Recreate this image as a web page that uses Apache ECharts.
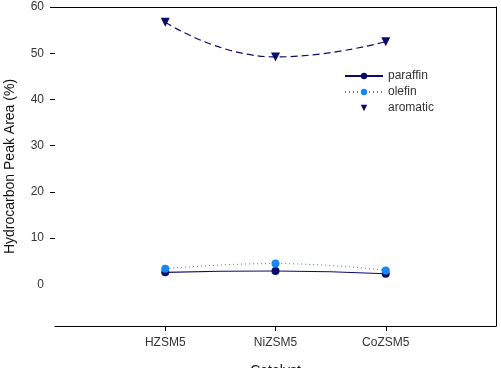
<!DOCTYPE html>
<html>
<head>
<meta charset="utf-8">
<script src="https://cdn.jsdelivr.net/npm/echarts@6/dist/echarts.min.js"></script>
<style>
  html, body { margin: 0; padding: 0; background: #fff; }
  #chart { width: 501px; height: 368px; }
</style>
</head>
<body>
<div id="chart"></div>
<script>
// catalysts on the x axis (positions 1..3)
var catalysts = ['HZSM5', 'NiZSM5', 'CoZSM5'];
var paraffin = [2.6, 2.9, 2.3];
var olefin = [3.4, 4.5, 3.0];
var aromatic = [56.7, 49.2, 52.5];
var yTicks = [0, 10, 20, 30, 40, 50, 60];

var navy = '#0b0b6b';
var blue = '#1a86f0';

function pts(arr){
    return arr.map(function(v, i){ return [i + 1, v]; });
}

var font = 'Liberation Sans, Arial, sans-serif';

var option = {
    animation: false,
    backgroundColor: '#fff',
    grid: { left: 55, right: 5, top: 7, bottom: 42, containLabel: false, outerBoundsMode: 'none' },
    legend: {
        orient: 'vertical',
        left: 339,
        top: 65,
        itemWidth: 38,
        itemHeight: 8,
        itemGap: 4,
        textStyle: { fontFamily: font, fontSize: 12, color: '#333' },
        data: [
            { name: 'paraffin' },
            { name: 'olefin' },
            { name: 'aromatic', lineStyle: { opacity: 0 } }
        ]
    },
    xAxis: [{
        type: 'value',
        min: 0,
        max: 4,
        name: 'Catalyst',
        nameLocation: 'middle',
        nameGap: 38,
        nameTextStyle: { fontFamily: font, fontSize: 14, color: '#111' },
        axisLine: { show: true, onZero: false, lineStyle: { color: '#000', width: 1 } },
        axisTick: { show: true, length: 5, customValues: [1, 2, 3], lineStyle: { color: '#000' } },
        axisLabel: {
            customValues: [1, 2, 3],
            margin: 11,
            fontFamily: font, fontSize: 12, color: '#333',
            formatter: function(v){ return catalysts[v - 1] || ''; }
        },
        splitLine: { show: false }
    }, {
        type: 'value',
        position: 'top',
        min: 0,
        max: 4,
        axisLine: { show: true, onZero: false, lineStyle: { color: '#000', width: 1 } },
        axisTick: { show: false },
        axisLabel: { show: false },
        splitLine: { show: false }
    }],
    yAxis: [{
        type: 'value',
        min: -9,
        max: 60,
        name: 'Hydrocarbon Peak Area (%)',
        nameLocation: 'middle',
        nameGap: 38,
        nameTextStyle: { fontFamily: font, fontSize: 14, color: '#111' },
        axisLine: { show: false, onZero: false },
        axisTick: { show: true, length: 5, inside: false, customValues: [10, 20, 30, 40, 50, 60], lineStyle: { color: '#000' } },
        axisLabel: {
            customValues: yTicks,
            margin: 11,
            fontFamily: font, fontSize: 12, color: '#333'
        },
        splitLine: { show: false }
    }, {
        type: 'value',
        position: 'right',
        min: -9,
        max: 60,
        axisLine: { show: true, onZero: false, lineStyle: { color: '#000', width: 1 } },
        axisTick: { show: false },
        axisLabel: { show: false },
        splitLine: { show: false }
    }],
    series: [{
        name: 'paraffin',
        type: 'line',
        data: pts(paraffin),
        smooth: true,
        symbol: 'circle',
        symbolSize: 8,
        lineStyle: { color: navy, width: 1.2, type: 'solid' },
        itemStyle: { color: navy }
    }, {
        name: 'olefin',
        type: 'line',
        data: pts(olefin),
        smooth: true,
        symbol: 'circle',
        symbolSize: 8,
        lineStyle: { color: blue, width: 1, type: [1, 3] },
        itemStyle: { color: blue }
    }, {
        name: 'aromatic',
        type: 'line',
        data: pts(aromatic),
        smooth: true,
        symbol: 'triangle',
        symbolRotate: 180,
        symbolSize: 9,
        lineStyle: { color: navy, width: 1.2, type: [7, 4] },
        itemStyle: { color: navy }
    }]
};

var myChart = echarts.init(document.getElementById('chart'));
myChart.setOption(option);
</script>
</body>
</html>
